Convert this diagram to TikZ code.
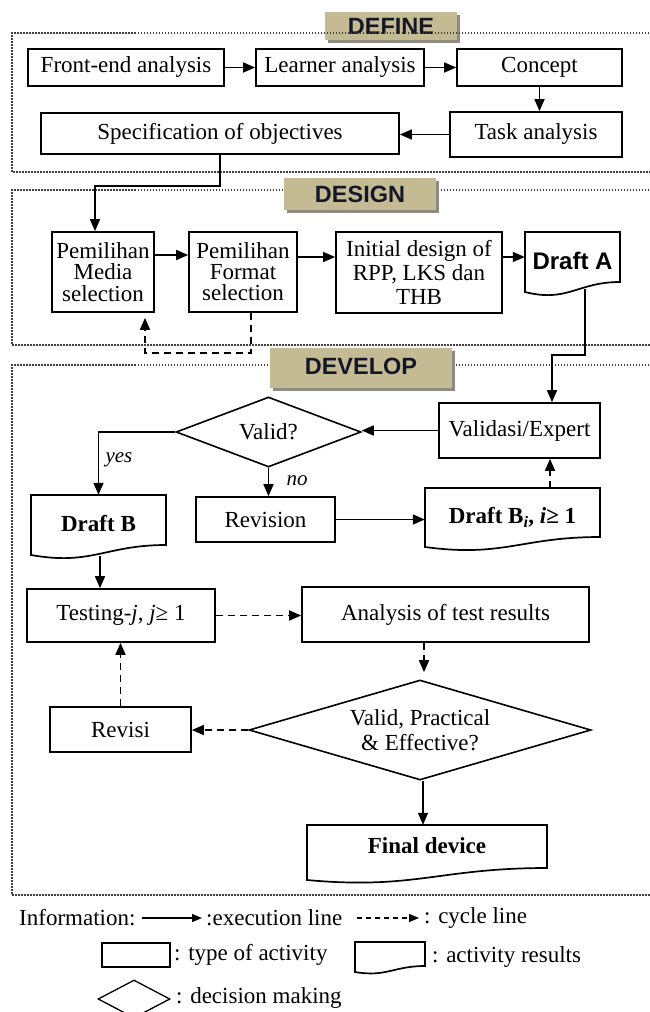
\documentclass[tikz,border=0pt]{standalone}
\usepackage{fontspec}
\setmainfont{Liberation Serif}
\newfontfamily\lsans{Liberation Sans}
\usetikzlibrary{arrows.meta,shapes.geometric}
\definecolor{labeltan}{HTML}{C4BB95}
\definecolor{labelshadow}{HTML}{8E8C80}
\definecolor{labeltext}{HTML}{141826}
\newcommand\docpath[5]{\draw[docshape] (#1,#3) -- (#2,#3) -- (#2,#5) .. controls ({#2-0.45*(#2-#1)},#5) and ({#1+0.45*(#2-#1)},{#4+0.18*(#4-#3)}) .. (#1,#4) -- cycle;}
\begin{document}
\begin{tikzpicture}[x=1pt,y=-1pt,
  every node/.style={font=\fontsize{23}{24}\selectfont},
  box/.style={draw, line width=1.7pt, fill=white, inner sep=0pt, align=center},
  doctext/.style={inner sep=0pt, align=center},
  docshape/.style={draw, line width=1.7pt, fill=white},
  arr/.style={line width=1.6pt, -{Triangle[length=12pt,width=10pt]}},
  darr/.style={line width=1.6pt, dash pattern=on 7pt off 5pt, -{Triangle[length=12pt,width=10pt]}},
  larr/.style={line width=1.3pt, -{Triangle[length=10pt,width=8pt]}},
  ldarr/.style={line width=1.3pt, dash pattern=on 5pt off 4pt, -{Triangle[length=10pt,width=8pt]}},
  frame/.style={line width=1.3pt, draw=black!75, dash pattern=on 1.5pt off 1.5pt},
  phase/.style={fill=labeltan, inner sep=0pt, font=\lsans\bfseries\fontsize{23.5}{24}\selectfont, text=labeltext},
  shadowbox/.style={fill=labelshadow, inner sep=0pt},
  lab/.style={font=\itshape\fontsize{21}{22}\selectfont, inner sep=0pt},
  legend/.style={anchor=west, inner sep=0pt},
  dia/.style={draw, diamond, line width=1.6pt, fill=white, inner sep=0pt, align=center}
]
\useasboundingbox (0,0) rectangle (650,1012);

% ---------- DEFINE label (frame runs over it) ----------
\node[shadowbox, minimum width=132, minimum height=28] (sDefine) at (394,29) {};
\node[phase, minimum width=132, minimum height=28] (lDefine) at (391,26) {DEFINE};

% ---------- frames ----------
\draw[frame] (655,33) -- (12,33) -- (12,172) -- (655,172);
\draw[frame] (655,190) -- (12,190) -- (12,345) -- (655,345);
\draw[frame] (655,365) -- (12,365) -- (12,895) -- (655,895);

\node[shadowbox, minimum width=152, minimum height=32] (sDesign) at (363,197) {};
\node[phase, minimum width=152, minimum height=32] (lDesign) at (360,194) {DESIGN};
\node[shadowbox, minimum width=182, minimum height=40] (sDevelop) at (364,371) {};
\node[phase, minimum width=182, minimum height=40] (lDevelop) at (361,368) {\raisebox{3pt}{DEVELOP}};

% ---------- document outlines ----------
\docpath{525}{620}{232}{292}{282}
\docpath{31}{166}{495}{555}{545}
\docpath{425}{600}{488}{547}{537}
\docpath{307}{547}{825}{880}{868}
\docpath{355}{425}{942}{972}{966}

% ---------- DEFINE ----------
\node[box, minimum width=196, minimum height=37] (fe) at (126,67.5) {Front-end analysis};
\node[box, minimum width=168, minimum height=37] (la) at (340,67.5) {Learner analysis};
\node[box, minimum width=165, minimum height=37] (co) at (539.5,67.5) {Concept};
\node[box, minimum width=172, minimum height=45] (ta) at (536,134.5) {Task analysis};
\node[box, minimum width=358, minimum height=41] (so) at (220,133.5) {Specification of objectives};

% ---------- DESIGN ----------
\node[box, minimum width=102, minimum height=80, font=\fontsize{23}{21.5}\selectfont] (pm) at (103,272) {Pemilihan\\Media\\selection};
\node[box, minimum width=108, minimum height=80, font=\fontsize{23}{21}\selectfont] (pf) at (243,272) {Pemilihan\\Format\\selection};
\node[box, minimum width=166, minimum height=81, font=\fontsize{23}{24}\selectfont] (id) at (419,272.5) {Initial design of\\RPP, LKS dan\\THB};
\node[doctext, minimum width=95, minimum height=57, font=\lsans\bfseries\fontsize{24}{24}\selectfont] (da) at (572.5,260.5) {\raisebox{-4pt}{Draft A}};

% ---------- DEVELOP ----------
\node[box, minimum width=161, minimum height=55] (va) at (519.5,430.5) {Validasi/Expert};
\node[dia, shape aspect=2.64, minimum width=185, minimum height=70] (vd) at (268.5,432) {Valid?};
\node[doctext, minimum width=135, minimum height=61] (db) at (98.5,525.5) {\raisebox{3.5pt}{\textbf{Draft B}}};
\node[box, minimum width=139, minimum height=45] (rv) at (265.5,519.5) {Revision};
\node[doctext, minimum width=175, minimum height=59] (dbi) at (512.5,517.5) {\textbf{Draft B\textsubscript{\textit{i}}, \textit{i}≥ 1}};
\node[box, minimum width=188, minimum height=53] (te) at (121,615.5) {Testing-\textit{j}, \textit{j}≥ 1};
\node[box, minimum width=287, minimum height=55] (an) at (445.5,614.5) {Analysis of test results};
\node[dia, shape aspect=3.42, minimum width=342, minimum height=100, font=\fontsize{23}{25}\selectfont] (vd2) at (420,730) {Valid, Practical\\\& Effective?};
\node[box, minimum width=141, minimum height=45] (rs) at (120.5,729.5) {Revisi};
\node[doctext, minimum width=240, minimum height=41] (fd) at (427,845.5) {\textbf{Final device}};

% ---------- connectors ----------
\draw[arr] (fe) -- (la);
\draw[arr] (la) -- (co);
\draw[arr] (co.south) -- (co.south |- ta.north);
\draw[arr] (ta.west) -- (ta.west -| so.east);
\coordinate (j1) at (95,186);
\draw[arr] (so.south) |- (j1) -- (j1 |- pm.north);

\draw[arr] ([yshift=17pt]pm.east) -- ([yshift=17pt]pm.east -| pf.west);
\draw[arr] ([yshift=15pt]pf.east) -- ([yshift=15pt]pf.east -| id.west);
\draw[arr] ([yshift=15.5pt]id.east) -- ([yshift=15.5pt]id.east -| da.west);
\coordinate (r0) at ([xshift=8pt]pf.south);
\coordinate (r2) at (145,353);
\draw[darr, shorten >=5pt] (r0) |- (r2) -- (r2 |- pm.south);

\coordinate (d0) at ([xshift=12.5pt]da.south);
\coordinate (d1) at (585,355);
\coordinate (d2) at (552,355);
\draw[arr] (d0) -- (d1) -- (d2) -- (d2 |- va.north);

\draw[arr] (va.west) -- (va.west -| vd.east);
\draw[arr] (vd.west) -| (db.north);
\node[lab] (yes) at (119,460) {yes};
\draw[arr] (vd.south) -- (vd.south |- rv.north);
\node[lab] (no) at (297,481) {no};
\draw[arr] (rv.east) -- (rv.east -| dbi.west);
\coordinate (q1) at ([xshift=37.5pt]dbi.north);
\draw[darr] (q1) -- (q1 |- va.south);

\coordinate (b0) at ([xshift=1.5pt]db.south);
\draw[arr] (b0) -- (b0 |- te.north);
\draw[darr] (te.east) -- (te.east -| an.west);
\coordinate (q2) at ([xshift=-21.5pt]an.south);
\draw[darr, shorten >=7pt] (q2) -- (q2 |- vd2.north);
\draw[darr] (vd2.west) -- (vd2.west -| rs.east);
\draw[darr] (rs.north) -- (rs.north |- te.south);
\coordinate (f0) at ([xshift=3pt]vd2.south);
\draw[arr] (f0) -- (f0 |- fd.north);

% ---------- legend ----------
\node[legend] (info) at (19,918) {Information:};
\coordinate (e1) at (142,918);
\coordinate (e2) at (202,918);
\draw[larr] (e1) -- (e2);
\node[legend] (exl) at (206,918) {:execution line};
\coordinate (c1) at (357,918);
\coordinate (c2) at (419,918);
\draw[ldarr] (c1) -- (c2);
\node[legend] (cyl) at (424,918) {: cycle line};
\node[draw, line width=1.3pt, inner sep=0pt, minimum width=68, minimum height=24] (lr) at (136,955) {};
\node[legend] (tya) at (174,955) {: type of activity};
\node[legend] (acr) at (432,957) {: activity results};
\node[draw, diamond, line width=1.3pt, inner sep=0pt, minimum width=72, minimum height=38] (ld) at (134,999) {};
\node[legend] (dm) at (176,998) {: decision making};
\end{tikzpicture}
\end{document}
